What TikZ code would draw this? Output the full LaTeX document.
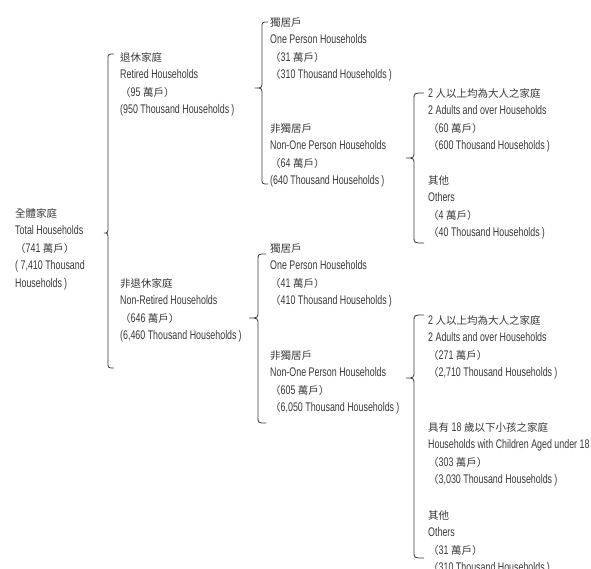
\documentclass[tikz,border=0pt]{standalone}
\usepackage{fontspec}
\setmainfont[FakeStretch=0.71]{Liberation Sans}
\newfontfamily\cjkf{Noto Sans CJK TC}
\usetikzlibrary{calc}
\definecolor{ink}{HTML}{3A3A3A}
\newcommand\C[1]{{\cjkf\fontsize{10.5}{17.5}\selectfont #1}}
\newcommand\mybrace[4]{%
  \draw[bracestyle] let \p1=(#1),\p2=(#2),\p3=(#3) in
    (\p1) .. controls (#4pt,\y1) .. (#4pt,\y1-6pt)
    -- (#4pt,\y2+7pt) .. controls (#4pt,\y2) .. (\p2)
    .. controls (#4pt,\y2) .. (#4pt,\y2-7pt)
    -- (#4pt,\y3+6pt) .. controls (#4pt,\y3) .. (\p3);}
\tikzset{
  lab/.style={anchor=north west, inner sep=0pt, align=left, text=ink,
    font=\fontsize{12.5}{17.5}\selectfont},
  bracestyle/.style={draw=ink, line width=0.8pt}
}
\begin{document}
\begin{tikzpicture}[x=1pt,y=-1pt]
\fill[white] (0,0) rectangle (591,568);
\useasboundingbox (0,0) rectangle (591,568);

\node[lab] (total) at (15,208) {\C{全體家庭}\\Total Households\\\C{（}741 \C{萬戶）}\\( 7,410 Thousand\\Households\,)};

\node[lab] (ret) at (120,52) {\C{退休家庭}\\Retired Households\\\C{（}95 \C{萬戶）}\\(950 Thousand Households\,)};
\node[lab] (nonret) at (120,278) {\C{非退休家庭}\\Non-Retired Households\\\C{（}646 \C{萬戶）}\\(6,460 Thousand Households\,)};

\node[lab] (rone) at (270,17) {\C{獨居戶}\\One Person Households\\\C{（}31 \C{萬戶）}\\\C{（}310 Thousand Households\,)};
\node[lab] (rnon) at (270,123) {\C{非獨居戶}\\Non-One Person Households\\\C{（}64 \C{萬戶）}\\(640 Thousand Households\,)};

\node[lab] (radult) at (428,88) {2 \C{人以上均為大人之家庭}\\2 Adults and over Households\\\C{（}60 \C{萬戶）}\\\C{（}600 Thousand Households\,)};
\node[lab] (roth) at (428,175) {\C{其他}\\Others\\\C{（}4 \C{萬戶）}\\\C{（}40 Thousand Households\,)};

\node[lab] (none) at (270,243) {\C{獨居戶}\\One Person Households\\\C{（}41 \C{萬戶）}\\\C{（}410 Thousand Households\,)};
\node[lab] (nnon) at (270,350) {\C{非獨居戶}\\Non-One Person Households\\\C{（}605 \C{萬戶）}\\\C{（}6,050 Thousand Households\,)};

\node[lab] (nadult) at (428,315) {2 \C{人以上均為大人之家庭}\\2 Adults and over Households\\\C{（}271 \C{萬戶）}\\\C{（}2,710 Thousand Households\,)};
\node[lab] (nchild) at (428,422) {\C{具有} 18 \C{歲以下小孩之家庭}\\Households with Children Aged under 18\\\C{（}303 \C{萬戶）}\\\C{（}3,030 Thousand Households\,)};
\node[lab] (noth) at (428,510) {\C{其他}\\Others\\\C{（}31 \C{萬戶）}\\\C{（}310 Thousand Households\,)};

% brace points
\coordinate (b1t) at (114,54);  \coordinate (b1m) at (104,233); \coordinate (b1b) at (114,368);
\coordinate (b2t) at (268,22);  \coordinate (b2m) at (255,88);  \coordinate (b2b) at (268,184);
\coordinate (b3t) at (266,254); \coordinate (b3m) at (249,318); \coordinate (b3b) at (266,423);
\coordinate (b4t) at (424,93);  \coordinate (b4m) at (406,158); \coordinate (b4b) at (424,243);
\coordinate (b5t) at (424,315); \coordinate (b5m) at (406,378); \coordinate (b5b) at (424,558);

\mybrace{b1t}{b1m}{b1b}{108}
\mybrace{b2t}{b2m}{b2b}{262}
\mybrace{b3t}{b3m}{b3b}{258}
\mybrace{b4t}{b4m}{b4b}{414}
\mybrace{b5t}{b5m}{b5b}{414}
\end{tikzpicture}
\end{document}
